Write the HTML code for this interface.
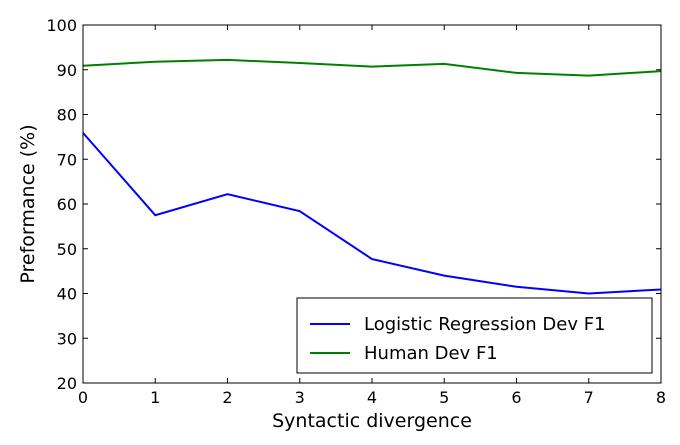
<!DOCTYPE html>
<html><head><meta charset="utf-8"><style>
body{margin:0;background:#fff}
svg text{font-family:"DejaVu Sans","Liberation Sans",sans-serif;fill:#000}
</style></head><body>
<svg id="c" width="680" height="440" viewBox="0 0 680 440"></svg>
<script>
const categories=[0,1,2,3,4,5,6,7,8];
const logisticF1=[75.9,57.5,62.2,58.4,47.7,44.0,41.5,40.0,40.9];
const humanF1=[90.9,91.8,92.2,91.5,90.7,91.3,89.3,88.7,89.7];
const yTicks=[20,30,40,50,60,70,80,90,100];
const xTicks=[0,1,2,3,4,5,6,7,8];

const L=83,R=661,T=25,B=383;
const sx=v=>L+(v-0)/(8-0)*(R-L);
const sy=v=>B-(v-20)/(100-20)*(B-T);
const svg=document.getElementById('c');
const NS='http://www.w3.org/2000/svg';
function mk(tag,attrs,parent){const e=document.createElementNS(NS,tag);for(const k in attrs)e.setAttribute(k,attrs[k]);(parent||svg).appendChild(e);return e;}

yTicks.forEach(v=>{
  const y=sy(v);
  const t=mk('line',{x1:L,x2:L+5,y1:y,y2:y,stroke:'#000','stroke-width':1});
  
  
  const t2=mk('line',{x1:R-5,x2:R,y1:y,y2:y,stroke:'#000','stroke-width':1});
  
  
  const l=mk('text',{x:L-6,y:y+6,'text-anchor':'end','font-size':16});
  l.textContent=v;
  
  
});
xTicks.forEach(v=>{
  const x=sx(v);
  const t=mk('line',{x1:x,x2:x,y1:B,y2:B-5,stroke:'#000','stroke-width':1});
  
  
  const t2=mk('line',{x1:x,x2:x,y1:T,y2:T+5,stroke:'#000','stroke-width':1});
  
  
  const l=mk('text',{x:x,y:B+20,'text-anchor':'middle','font-size':16});
  l.textContent=v;
  
  
});

function series(vals,color,name){
  const p=mk('polyline',{points:vals.map((v,i)=>sx(categories[i])+','+sy(v)).join(' '),fill:'none',stroke:color,'stroke-width':2});
  
  
}
series(logisticF1,'#0000ff','logistic-regression-line');
series(humanF1,'#008000','human-line');

const frame=mk('rect',{x:L,y:T,width:R-L,height:B-T,fill:'none',stroke:'#000','stroke-width':1});



const xt=mk('text',{x:(L+R)/2,y:427,'text-anchor':'middle','font-size':19});
xt.textContent='Syntactic divergence';


const yt=mk('text',{x:0,y:0,'text-anchor':'middle','font-size':19,transform:'translate(34,204) rotate(-90)'});
yt.textContent='Preformance (%)';



const lg=mk('g',{});


mk('rect',{x:297,y:298,width:355,height:75,fill:'#fff',stroke:'#000','stroke-width':1},lg);
const e1=mk('line',{x1:310,x2:350,y1:324,y2:324,stroke:'#0000ff','stroke-width':2},lg);


const t1=mk('text',{x:364,y:330,'font-size':18},lg);
t1.textContent='Logistic Regression Dev F1';


const e2=mk('line',{x1:310,x2:350,y1:353,y2:353,stroke:'#008000','stroke-width':2},lg);


const t2=mk('text',{x:364,y:359,'font-size':18},lg);
t2.textContent='Human Dev F1';


</script>
</body></html>
